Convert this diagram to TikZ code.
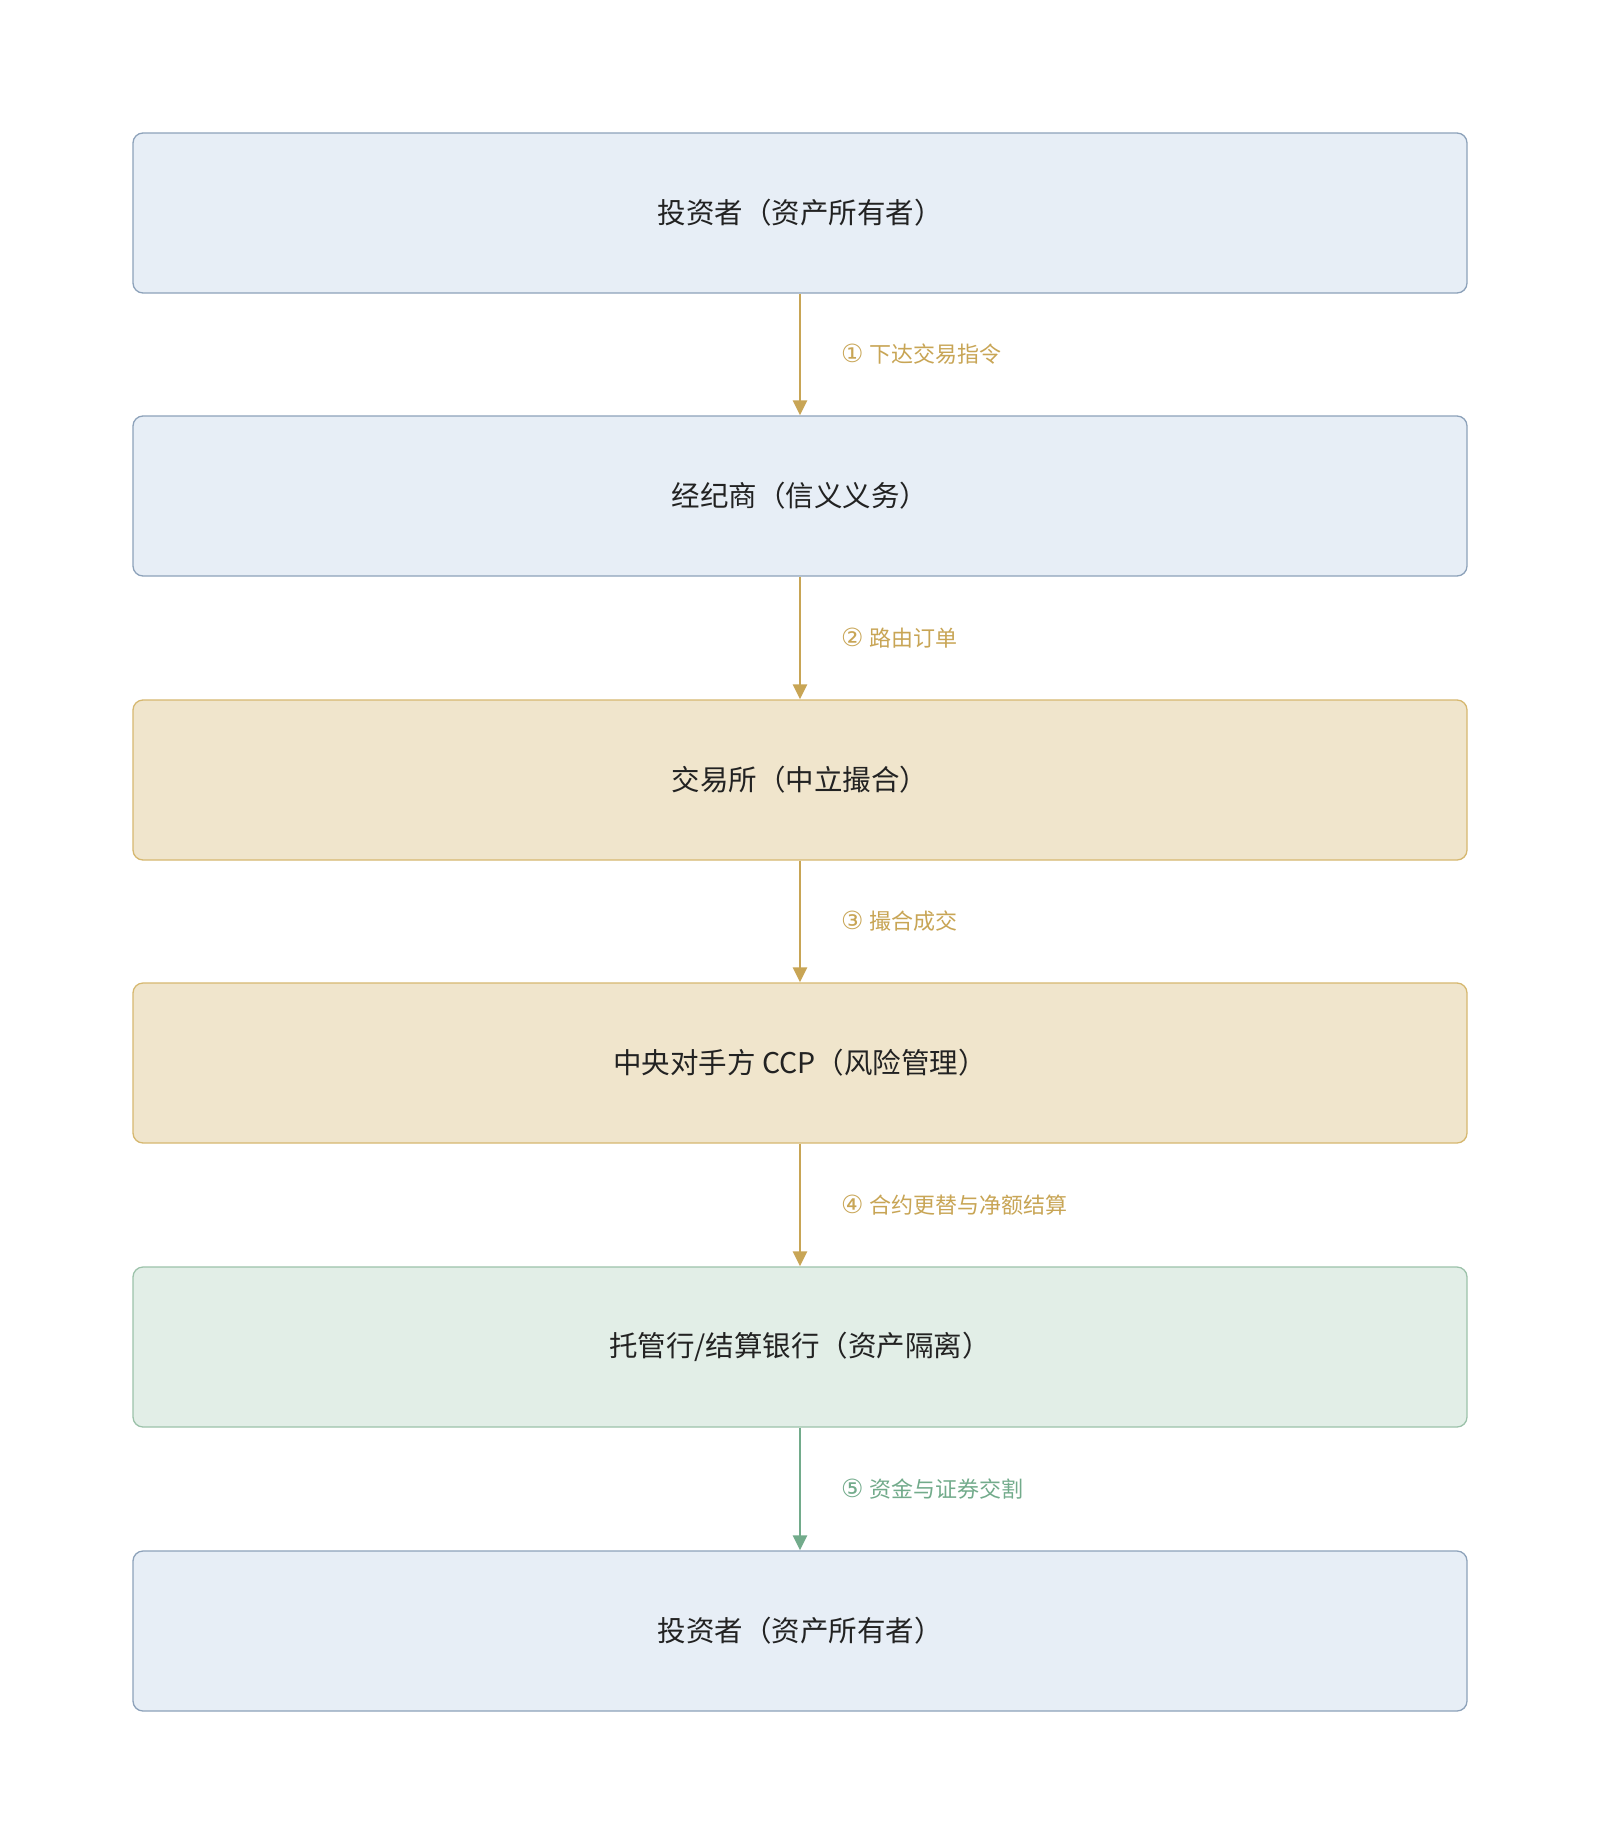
\documentclass[tikz,border=0pt]{standalone}
\usepackage{fontspec}
\setmainfont{Noto Sans CJK SC}
\newfontfamily\digitfont{DejaVu Sans}
\usetikzlibrary{arrows.meta}
\definecolor{bluefill}{HTML}{E7EEF6}
\definecolor{blueline}{HTML}{8DA2BA}
\definecolor{tanfill}{HTML}{F0E5CC}
\definecolor{tanline}{HTML}{D6B870}
\definecolor{greenfill}{HTML}{E2EEE7}
\definecolor{greenline}{HTML}{9CC2AA}
\definecolor{goldarrow}{HTML}{C8A555}
\definecolor{greenarrow}{HTML}{72AB8B}
\definecolor{textdark}{HTML}{222222}
\newcommand{\circnum}[1]{{\digitfont\fontsize{25}{26}\selectfont #1}\hspace{6pt}}
\tikzset{
  box/.style={rectangle, rounded corners=10pt, minimum width=1334pt, minimum height=160pt,
    line width=1.3pt, text=textdark, font=\fontsize{28.5}{34}\selectfont, inner sep=0pt},
  bluebox/.style={box, fill=bluefill, draw=blueline},
  tanbox/.style={box, fill=tanfill, draw=tanline},
  greenbox/.style={box, fill=greenfill, draw=greenline},
  flow/.style={line width=2.6pt, -{Triangle[length=15pt,width=14pt]}},
  lbl/.style={anchor=west, font=\fontsize{22}{26}\selectfont, inner sep=0pt}
}
\begin{document}
\begin{tikzpicture}[x=1pt,y=-1pt]
\useasboundingbox[fill=white] (0,0) rectangle (1600,1844);
\node[bluebox]  (b1) at (800,213)  {投资者（资产所有者）};
\node[bluebox]  (b2) at (800,496)  {经纪商（信义义务）};
\node[tanbox]   (b3) at (800,780)  {交易所（中立撮合）};
\node[tanbox]   (b4) at (800,1063) {中央对手方 CCP（风险管理）};
\node[greenbox] (b5) at (800,1347) {托管行/结算银行（资产隔离）};
\node[bluebox]  (b6) at (800,1631) {投资者（资产所有者）};
\draw[flow, goldarrow] (b1.south) -- (b2.north);
\draw[flow, goldarrow] (b2.south) -- (b3.north);
\draw[flow, goldarrow] (b3.south) -- (b4.north);
\draw[flow, goldarrow] (b4.south) -- (b5.north);
\draw[flow, greenarrow] (b5.south) -- (b6.north);
\node[lbl, text=goldarrow] (l1) at (841,354.5)  {\circnum{①}下达交易指令};
\node[lbl, text=goldarrow] (l2) at (841,638)    {\circnum{②}路由订单};
\node[lbl, text=goldarrow] (l3) at (841,921.5)  {\circnum{③}撮合成交};
\node[lbl, text=goldarrow] (l4) at (841,1205)   {\circnum{④}合约更替与净额结算};
\node[lbl, text=greenarrow] (l5) at (841,1489)  {\circnum{⑤}资金与证券交割};
\end{tikzpicture}
\end{document}
